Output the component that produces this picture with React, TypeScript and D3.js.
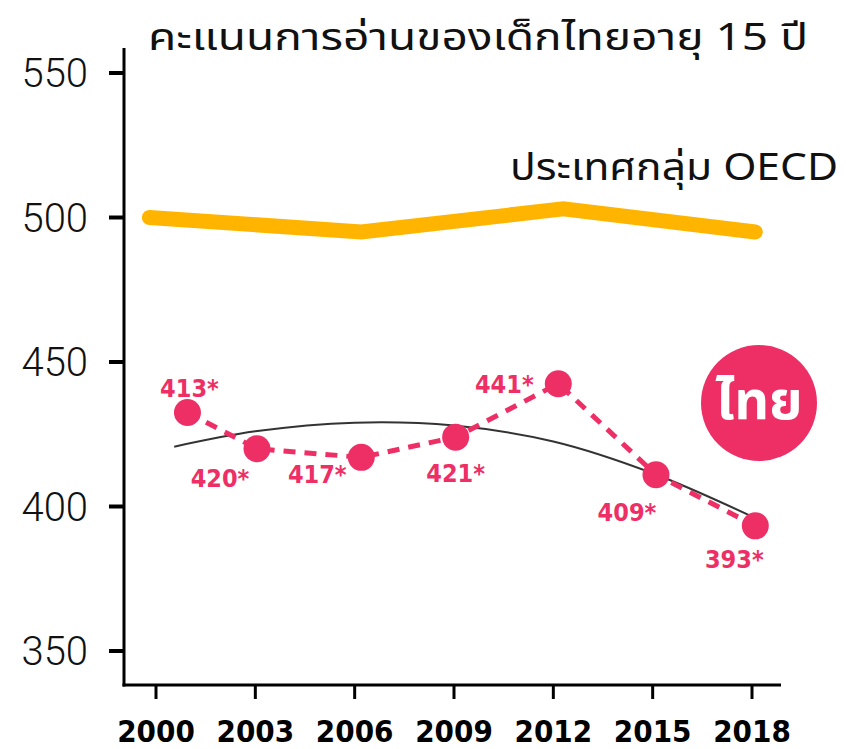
import React from "react";
import * as d3 from "d3";

// ---- data ----
const yTicks = [350, 400, 450, 500, 550];
const xTickYears = [2000, 2003, 2006, 2009, 2012, 2015, 2018];
const xTickLabels = ["2000", "2003", "2006", "2009", "2012", "2015", "2018"];

const oecdYears = [1999.8, 2006.2, 2012.3, 2018.1];
const oecdValues = [500, 495, 503, 495];

const thaiYears = [2000.95, 2003.05, 2006.2, 2009.05, 2012.15, 2015.1, 2018.1];
const thaiValues = [432.5, 420, 417, 424, 442.5, 411, 393.3];
const thaiLabels = ["413*", "420*", "417*", "421*", "441*", "409*", "393*"];

const trendYears = [2000.55, 2003, 2006, 2009, 2012, 2015, 2018.1];
const trendValues = [420.7, 426, 429, 428, 422.5, 411.5, 396];

const title = "คะแนนการอ่านของเด็กไทยอายุ 15 ปี";
const oecdLabel = "ประเทศกลุ่ม OECD";
const thaiBadge = "ไทย";

// label placement (layout, px offsets from dot)
const labelOffsets: [number, number][] = [
  [2, -16],
  [-37, 38],
  [-44, 26],
  [0, 45],
  [-54, 9],
  [-29, 46],
  [-21, 42],
];

const PINK = "#EE2F66";
const ORANGE = "#FFB500";

export default function App() {
  const W = 846;
  const H = 749;
  const x = d3.scaleLinear().domain([2000, 2018]).range([156, 752]);
  const y = d3.scaleLinear().domain([350, 550]).range([651, 73]);

  const oecdLine = d3
    .line<number>()
    .x((_, i) => x(oecdYears[i]))
    .y((d) => y(d))(oecdValues) as string;

  const thaiLine = d3
    .line<number>()
    .x((_, i) => x(thaiYears[i]))
    .y((d) => y(d))(thaiValues) as string;

  const trendLine = d3
    .line<number>()
    .x((_, i) => x(trendYears[i]))
    .y((d) => y(d))
    .curve(d3.curveCatmullRom)(trendValues) as string;

  const axisX = 124;
  const axisY = 685;

  return (
    <svg
      width={W}
      height={H}
      viewBox={`0 0 ${W} ${H}`}
      style={{ position: "absolute", left: 0, top: 0, background: "#fff" }}
    >
      {/* title */}
      <text
        x={148}
        y={50}
        fontFamily="'Noto Sans Thai', 'Noto Sans', sans-serif"
        fontSize={38}
        fill="#111"
        textLength={660}
        lengthAdjust="spacingAndGlyphs"
      >
        {title}
      </text>

      {/* y axis */}
      <line x1={axisX} x2={axisX} y1={48} y2={axisY + 1.5} stroke="#000" strokeWidth={3} />
      {yTicks.map((t) => (
        <g key={t}>
          <line x1={109} x2={axisX} y1={y(t)} y2={y(t)} stroke="#000" strokeWidth={4} />
          <text
            x={88}
            y={y(t)}
            dy="0.36em"
            textAnchor="end"
            fontFamily="Roboto, 'Open Sans', sans-serif"
            fontWeight={300}
            fontSize={40}
            fill="#111"
          >
            {t}
          </text>
        </g>
      ))}

      {/* x axis */}
      <line x1={axisX - 1.5} x2={781} y1={axisY} y2={axisY} stroke="#000" strokeWidth={3} />
      {xTickYears.map((yr, i) => (
        <g key={yr}>
          <line x1={x(yr)} x2={x(yr)} y1={axisY} y2={699} stroke="#000" strokeWidth={3} />
          <text
            x={x(yr)}
            y={742}
            textAnchor="middle"
            fontFamily="'DejaVu Sans Condensed', 'DejaVu Sans', sans-serif"
            fontWeight={700}
            fontSize={31}
            fill="#000"
          >
            {xTickLabels[i]}
          </text>
        </g>
      ))}

      {/* OECD */}
      <path
        d={oecdLine}
        fill="none"
        stroke={ORANGE}
        strokeWidth={15}
        strokeLinecap="round"
        strokeLinejoin="miter"
      />
      <text
        x={838}
        y={180}
        textAnchor="end"
        fontFamily="'Noto Sans Thai', 'Noto Sans', sans-serif"
        fontSize={38}
        fill="#111"
        textLength={328}
        lengthAdjust="spacingAndGlyphs"
      >
        {oecdLabel}
      </text>

      {/* trend */}
      <path d={trendLine} fill="none" stroke="#333" strokeWidth={2} />

      {/* Thai */}
      <path
        d={thaiLine}
        fill="none"
        stroke={PINK}
        strokeWidth={5}
        strokeDasharray="12 9"
      />
      {thaiValues.map((v, i) => (
        <circle key={i} cx={x(thaiYears[i])} cy={y(v)} r={13.5} fill={PINK} />
      ))}
      {thaiValues.map((v, i) => (
        <text
          key={"l" + i}
          x={x(thaiYears[i]) + labelOffsets[i][0]}
          y={y(v) + labelOffsets[i][1]}
          textAnchor="middle"
          fontFamily="'DejaVu Sans Condensed', 'DejaVu Sans', sans-serif"
          fontWeight={700}
          fontSize={25}
          fill={PINK}
        >
          {thaiLabels[i]}
        </text>
      ))}

      {/* badge */}
      <circle cx={759} cy={403} r={58} fill={PINK} />
      <text
        x={759}
        y={403}
        dy="0.3em"
        textAnchor="middle"
        fontFamily="'Noto Sans Thai', 'Noto Sans', sans-serif"
        fontWeight={700}
        fontSize={54}
        fill="#fff"
      >
        {thaiBadge}
      </text>
    </svg>
  );
}
